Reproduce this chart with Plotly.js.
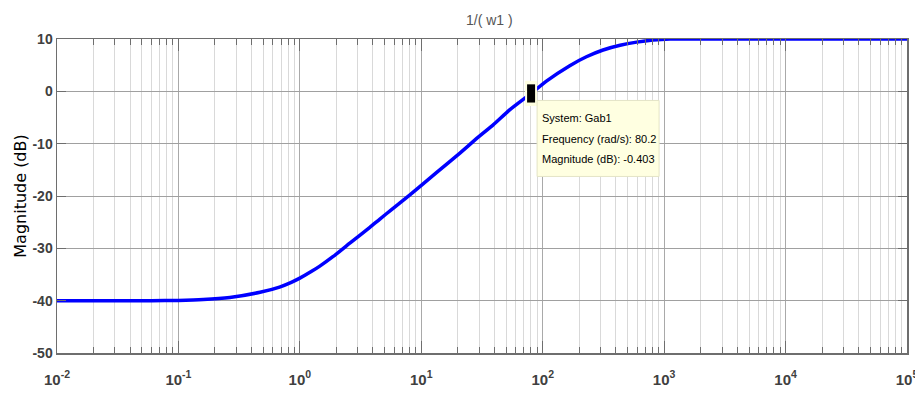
<!DOCTYPE html>
<html>
<head>
<meta charset="utf-8">
<script src="https://cdn.plot.ly/plotly-3.0.1.min.js"></script>
<style>html,body{margin:0;padding:0;background:#fff;}#chart{width:915px;height:394px;}</style>
</head>
<body>
<div id="chart"></div>
<script>
// Bode magnitude curve (rad/s, dB)
const freq = [0.01, 0.03, 0.06, 0.1, 0.16, 0.265, 0.47, 0.68, 0.85, 1.0, 1.25, 1.46, 1.87, 2.58, 3.77, 4.56, 5.69, 8.06, 13.4, 20.8, 28.6, 39.1, 53.7, 80.2, 108, 167, 229, 314, 434, 594, 810, 1120, 2000, 10000, 100000];
const magDb = [-40, -40, -40, -39.95, -39.8, -39.4, -38.4, -37.4, -36.5, -35.7, -34.4, -33.4, -31.6, -29.0, -26.0, -24.4, -22.6, -19.8, -15.5, -11.8, -9.0, -6.4, -3.5, -0.403, 2.0, 4.9, 6.6, 7.9, 8.8, 9.4, 9.8, 10, 10, 10, 10];

// Axis ticks
const xDecades = [0.01, 0.1, 1, 10, 100, 1000, 10000, 100000];
const xTickText = ['10<sup>-2</sup>', '10<sup>-1</sup>', '10<sup>0</sup>', '10<sup>1</sup>', '10<sup>2</sup>', '10<sup>3</sup>', '10<sup>4</sup>', '10<sup>5</sup>'];
const yTicks = [-50, -40, -30, -20, -10, 0, 10];
const yTickText = ['-50', '-40', '-30', '-20', '-10', '0', '10'];

// Data tip
const tipFreq = [80.2];
const tipMag = [-0.403];
const tipLines = ['System: Gab1', 'Frequency (rad/s): 80.2', 'Magnitude (dB): -0.403'];
const chartTitle = '1/( w1 )';
const yTitle = 'Magnitude (dB)';

const minorVals = [];
xDecades.slice(0, -1).forEach(d => { for (let k = 2; k <= 9; k++) minorVals.push(d * k); });

const sans = 'Liberation Sans, Arial, sans-serif';
const frame = '#6e6e6e';

const traces = [
  {x: freq, y: magDb, type: 'scatter', mode: 'lines',
   line: {color: '#0000ff', width: 3.5, shape: 'spline', smoothing: 0.5},
   hoverinfo: 'skip', showlegend: false},
  {x: tipFreq, y: tipMag, type: 'scatter', mode: 'markers',
   marker: {symbol: 'line-ns', size: 18, color: '#ffffe1', line: {color: '#ffffe1', width: 12}},
   hoverinfo: 'skip', showlegend: false},
  {x: tipFreq, y: tipMag, type: 'scatter', mode: 'markers',
   marker: {symbol: 'line-ns', size: 13, color: '#000000', line: {color: '#000000', width: 8}},
   hoverinfo: 'skip', showlegend: false}
];

const tipX = Math.log10(tipFreq[0]);
const shapes = [
  {type: 'rect', xref: 'x', yref: 'y', xsizemode: 'pixel', ysizemode: 'pixel',
   xanchor: tipFreq[0], yanchor: tipMag[0], x0: 6, x1: 128, y0: -7, y1: -83,
   fillcolor: '#ffffe1', line: {color: '#e4e4c6', width: 1}, layer: 'above'}
];
const annotations = [];
const lineOffsets = [25, 46, 66];
tipLines.forEach((t, i) => annotations.push({
  xref: 'x', yref: 'y', x: tipX, y: tipMag[0], xanchor: 'left', yanchor: 'middle', xshift: 9, yshift: -lineOffsets[i],
  text: t, showarrow: false, align: 'left', font: {family: sans, size: 11, color: '#000000'}
}));
annotations.push({
  xref: 'paper', yref: 'paper', x: 0.5, y: 1, xanchor: 'center', yanchor: 'bottom', yshift: 9, xshift: 7,
  text: chartTitle, showarrow: false, font: {family: sans, size: 14, color: '#555555'}
});

const layout = {
  width: 915, height: 394,
  margin: {l: 57, r: 8, t: 39, b: 41},
  paper_bgcolor: '#ffffff', plot_bgcolor: '#ffffff',
  showlegend: false,
  xaxis: {
    type: 'log', range: [-2, 5], autorange: false,
    tickmode: 'array', tickvals: xDecades, ticktext: xTickText,
    ticks: 'inside', ticklen: 12, tickwidth: 1, tickcolor: frame,
    showline: true, linecolor: frame, linewidth: 1.5, mirror: 'allticks',
    showgrid: true, gridcolor: '#a9a9a9', gridwidth: 1, zeroline: false,
    ticklabelstandoff: 12, ticklabeloverflow: 'allow',
    tickfont: {family: sans, size: 15, color: '#404040', weight: 'bold'},
    minor: {tickmode: 'array', tickvals: minorVals, ticks: 'inside', ticklen: 6, tickcolor: frame,
            showgrid: true, gridcolor: '#d9d9d9', gridwidth: 1}
  },
  yaxis: {
    range: [-50, 10], autorange: false,
    tickmode: 'array', tickvals: yTicks, ticktext: yTickText,
    ticks: 'inside', ticklen: 9, tickwidth: 1, tickcolor: frame,
    showline: true, linecolor: frame, linewidth: 1.5, mirror: 'allticks',
    showgrid: true, gridcolor: '#a0a0a0', gridwidth: 1, zeroline: false,
    tickfont: {family: sans, size: 14, color: '#404040', weight: 'bold'},
    title: {text: yTitle, font: {family: 'DejaVu Sans, Arial, sans-serif', size: 16, color: '#000000'}, standoff: 2}
  },
  shapes: shapes,
  annotations: annotations
};

Plotly.newPlot('chart', traces, layout, {staticPlot: true, displayModeBar: false});
</script>
</body>
</html>
